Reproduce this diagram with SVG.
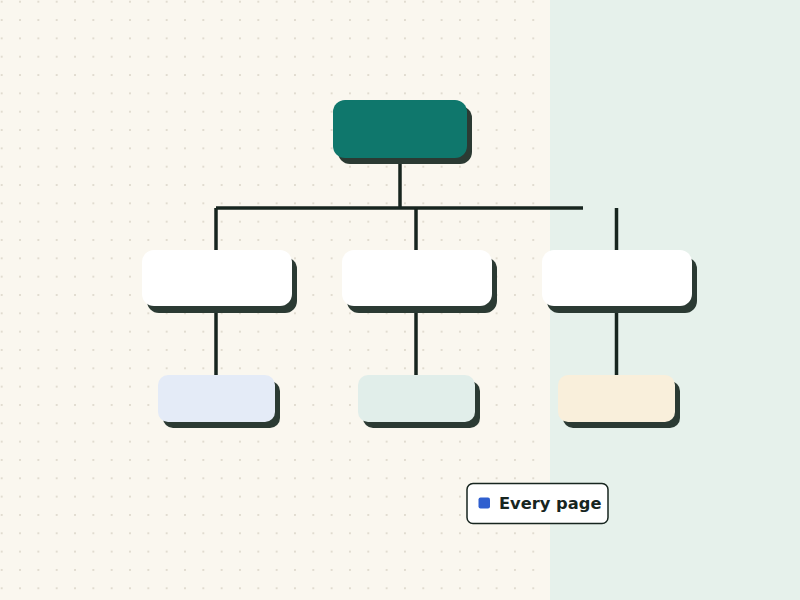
<svg xmlns="http://www.w3.org/2000/svg" width="800" height="600" viewBox="0 0 800 600">
<defs>
<pattern id="dots" x="1.7" y="1.7" width="18.33" height="18.33" patternUnits="userSpaceOnUse">
<circle cx="0" cy="0" r="1" fill="#d9d3c6"/>
<circle cx="18.33" cy="0" r="1" fill="#d9d3c6"/>
<circle cx="0" cy="18.33" r="1" fill="#d9d3c6"/>
<circle cx="18.33" cy="18.33" r="1" fill="#d9d3c6"/>
</pattern>
<style>
.shadow{fill:#2b3a33}
.conn{stroke:#17251f;stroke-width:3.5;fill:none;stroke-linecap:butt}
.legend-text{font-family:"DejaVu Sans",sans-serif;font-weight:bold;font-size:16.3px;fill:#17251f}
</style>
</defs>
<rect x="0" y="0" width="550" height="600" fill="#faf7ef"/>
<rect x="0" y="0" width="550" height="600" fill="url(#dots)"/>
<rect x="550" y="0" width="250" height="600" fill="#e6f1eb"/>
<g id="connectors">
<line class="conn" x1="400" y1="158" x2="400" y2="208"/>
<line class="conn" x1="216" y1="208" x2="583" y2="208"/>
<line class="conn" x1="216" y1="208" x2="216" y2="252"/>
<line class="conn" x1="416" y1="208" x2="416" y2="252"/>
<line class="conn" x1="616.5" y1="208" x2="616.5" y2="252"/>
<line class="conn" x1="216" y1="305" x2="216" y2="376"/>
<line class="conn" x1="416" y1="305" x2="416" y2="376"/>
<line class="conn" x1="616.5" y1="305" x2="616.5" y2="376"/>
</g>
<g id="root">
<rect class="shadow" x="338" y="106" width="134" height="58" rx="12"/>
<rect x="333" y="100" width="134" height="58" rx="12" fill="#0f776c"/>
</g>
<g id="child1">
<rect class="shadow" x="147" y="257" width="150" height="56" rx="12"/>
<rect x="142" y="250" width="150" height="56" rx="12" fill="#ffffff"/>
</g>
<g id="child2">
<rect class="shadow" x="347" y="257" width="150" height="56" rx="12"/>
<rect x="342" y="250" width="150" height="56" rx="12" fill="#ffffff"/>
</g>
<g id="child3">
<rect class="shadow" x="547" y="257" width="150" height="56" rx="12"/>
<rect x="542" y="250" width="150" height="56" rx="12" fill="#ffffff"/>
</g>
<g id="grandchild1">
<rect class="shadow" x="163" y="381" width="117" height="47" rx="10"/>
<rect x="158" y="375" width="117" height="47" rx="10" fill="#e4ebf7"/>
</g>
<g id="grandchild2">
<rect class="shadow" x="363" y="381" width="117" height="47" rx="10"/>
<rect x="358" y="375" width="117" height="47" rx="10" fill="#e1eeea"/>
</g>
<g id="grandchild3">
<rect class="shadow" x="563" y="381" width="117" height="47" rx="10"/>
<rect x="558" y="375" width="117" height="47" rx="10" fill="#f9efdb"/>
</g>
<g id="legend">
<rect x="467" y="483.5" width="141" height="40" rx="6" fill="#ffffff" stroke="#17251f" stroke-width="1.5"/>
<rect x="478.5" y="497.5" width="11.5" height="11" rx="2" fill="#2f5fcf"/>
<text class="legend-text" x="499" y="509">Every page</text>
</g>
</svg>
